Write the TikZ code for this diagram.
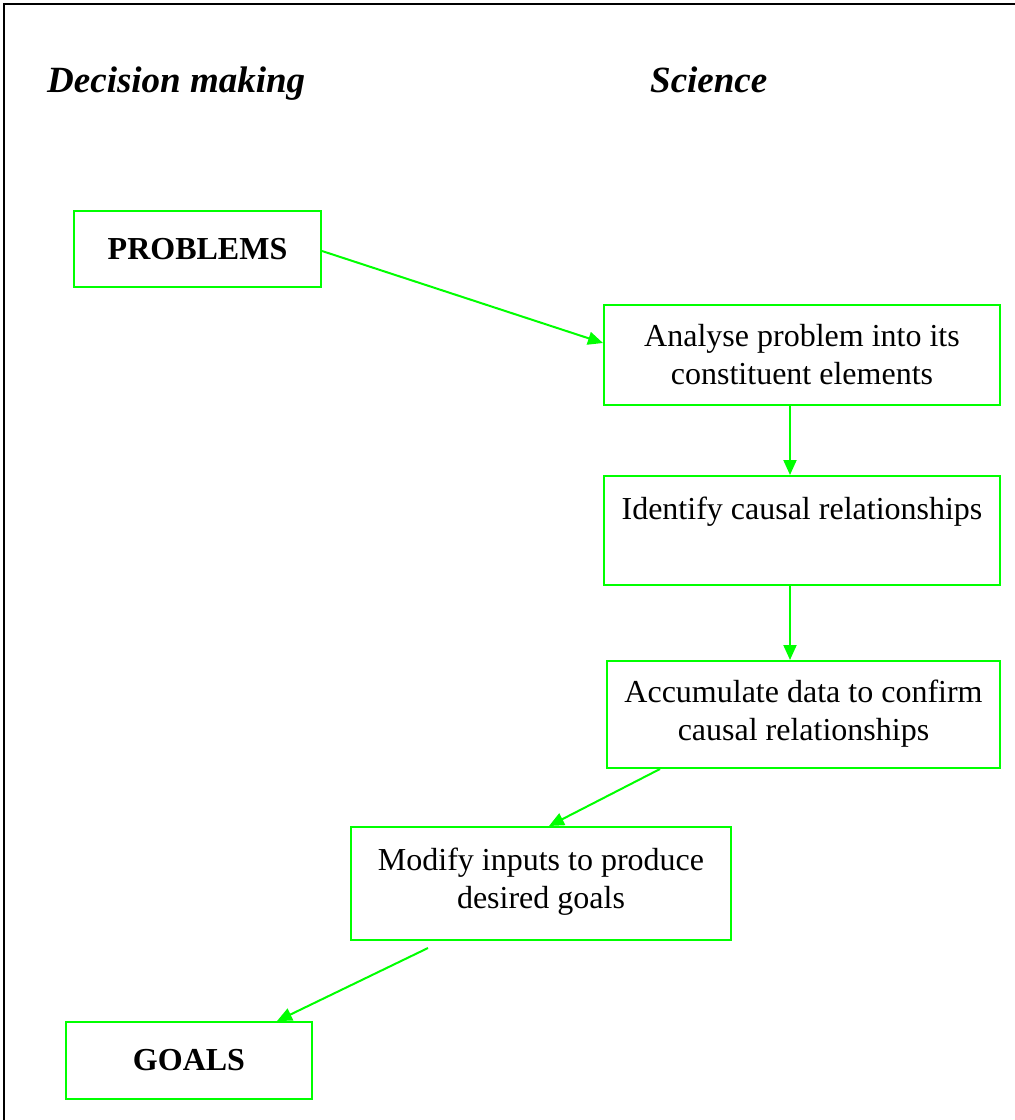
\documentclass[tikz,border=0pt]{standalone}
\usepackage{fontspec}
\setmainfont{Liberation Serif}
\usetikzlibrary{arrows.meta}
\definecolor{flowgreen}{RGB}{0,255,0}
\begin{document}
\begin{tikzpicture}[x=1pt,y=-1pt,
  stepbox/.style={draw=flowgreen,line width=2pt,rectangle,inner sep=0pt,
    align=center,font=\fontsize{32}{38}\selectfont},
  flow/.style={draw=flowgreen,line width=2pt,
    -{Triangle[length=15pt,width=13pt]}},
  heading/.style={font=\fontsize{37}{44}\selectfont\bfseries\itshape,anchor=base west,inner sep=0pt}]
\useasboundingbox (0,0) rectangle (1015,1120);
% outer frame
\draw[line width=2pt] (4,1130) -- (4,4) -- (1025,4);
% column headings
\node[heading] (hdm) at (47,92) {Decision making};
\node[heading] (hsc) at (650,92) {Science};
% boxes
\node[stepbox,minimum width=247pt,minimum height=76pt,font=\fontsize{32}{38}\selectfont\bfseries] (prob) at (197.5,249) {PROBLEMS};
\node[stepbox,minimum width=396pt,minimum height=100pt] (anal) at (802,355) {Analyse problem into its\\constituent elements};
\node[stepbox,minimum width=396pt,minimum height=109pt] (iden) at (802,530.5) {Identify causal relationships\\[-4pt]\strut};
\node[stepbox,minimum width=393pt,minimum height=107pt,text depth=8pt] (accu) at (803.5,714.5) {Accumulate data to confirm\\causal relationships};
\node[stepbox,minimum width=380pt,minimum height=113pt,text depth=10pt] (modi) at (541,883.5) {Modify inputs to produce\\desired goals};
\node[stepbox,minimum width=246pt,minimum height=77pt,font=\fontsize{32}{38}\selectfont\bfseries] (goal) at (189,1060.5) {GOALS};
% connectors
\draw[flow] (prob.east) ++(0,2) coordinate (p1) (p1) -- (anal.west |- 0,343);
\draw[flow] (anal.south -| 790,0) -- (iden.north -| 790,0);
\draw[flow] (iden.south -| 790,0) -- (accu.north -| 790,0);
\draw[flow] (accu.south -| 660,0) -- (modi.north -| 549,0);
\coordinate (mstart) at (428,948);
\draw[flow] (mstart) -- (goal.north -| 277,0);
\end{tikzpicture}
\end{document}
